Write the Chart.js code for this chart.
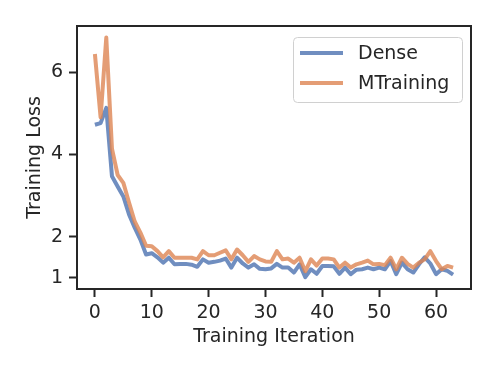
<!DOCTYPE html>
<html>
<head>
<meta charset="utf-8">
<script src="https://cdn.jsdelivr.net/npm/chart.js@4"></script>
<style>
  html, body { margin: 0; padding: 0; background: #ffffff; }
  #wrap { width: 498px; height: 374px; }
</style>
</head>
<body>
<div id="wrap"><canvas id="grafico" width="498" height="374"></canvas></div>
<script>
const iterations = [0, 1, 2, 3, 4, 5, 6, 7, 8, 9, 10, 11, 12, 13, 14, 15, 16, 17, 18, 19,
  20, 21, 22, 23, 24, 25, 26, 27, 28, 29, 30, 31, 32, 33, 34, 35, 36, 37, 38, 39,
  40, 41, 42, 43, 44, 45, 46, 47, 48, 49, 50, 51, 52, 53, 54, 55, 56, 57, 58, 59,
  60, 61, 62, 63];

const dense = [4.72, 4.76, 5.13, 3.47, 3.22, 2.98, 2.54, 2.22, 1.93, 1.57,
  1.60, 1.50, 1.37, 1.49, 1.33, 1.34, 1.34, 1.32, 1.27, 1.45,
  1.37, 1.39, 1.42, 1.47, 1.25, 1.49, 1.35, 1.25, 1.33, 1.22,
  1.21, 1.23, 1.34, 1.25, 1.25, 1.13, 1.33, 1.02, 1.21, 1.10,
  1.29, 1.29, 1.28, 1.10, 1.25, 1.09, 1.20, 1.21, 1.25, 1.21,
  1.25, 1.21, 1.41, 1.09, 1.37, 1.21, 1.13, 1.33, 1.50, 1.35,
  1.09, 1.21, 1.17, 1.08];

const mtraining = [6.44, 4.90, 6.84, 4.14, 3.50, 3.31, 2.83, 2.37, 2.10, 1.78,
  1.77, 1.65, 1.50, 1.65, 1.49, 1.49, 1.49, 1.49, 1.45, 1.65,
  1.55, 1.55, 1.61, 1.67, 1.45, 1.69, 1.55, 1.39, 1.53, 1.45,
  1.40, 1.39, 1.65, 1.45, 1.47, 1.37, 1.49, 1.16, 1.45, 1.30,
  1.47, 1.47, 1.45, 1.25, 1.37, 1.25, 1.33, 1.37, 1.42, 1.33,
  1.34, 1.31, 1.49, 1.21, 1.49, 1.34, 1.25, 1.37, 1.45, 1.65,
  1.41, 1.21, 1.29, 1.25];

const xTicks = [0, 10, 20, 30, 40, 50, 60];
const yTicks = [1, 2, 4, 6];

const corTexto = '#262626';
const fonte = 'DejaVu Sans';
const tamanhoFonte = 19;

// moldura completa + legenda dentro da area do grafico
const molduraELegenda = {
  id: 'molduraELegenda',
  afterDraw(chart) {
    const { ctx, chartArea } = chart;
    ctx.save();
    ctx.strokeStyle = corTexto;
    ctx.lineWidth = 2;
    ctx.strokeRect(chartArea.left, chartArea.top, chartArea.right - chartArea.left, chartArea.bottom - chartArea.top);

    const w = 169, h = 65;
    const x0 = chartArea.right - 9 - w;
    const y0 = chartArea.top + 11;
    ctx.fillStyle = 'rgba(255,255,255,0.8)';
    ctx.strokeStyle = '#d0d0d0';
    ctx.lineWidth = 1;
    ctx.beginPath();
    ctx.roundRect(x0 + 0.5, y0 + 0.5, w, h, 4);
    ctx.fill();
    ctx.stroke();

    ctx.font = tamanhoFonte + 'px "' + fonte + '"';
    ctx.textBaseline = 'middle';
    ctx.textAlign = 'left';
    chart.data.datasets.forEach((ds, i) => {
      const yy = y0 + 16 + i * 30;
      ctx.strokeStyle = ds.borderColor;
      ctx.lineWidth = 4;
      ctx.lineCap = 'butt';
      ctx.beginPath();
      ctx.moveTo(x0 + 7, yy);
      ctx.lineTo(x0 + 50, yy);
      ctx.stroke();
      ctx.fillStyle = corTexto;
      ctx.fillText(ds.label, x0 + 65, yy + 1);
    });
    ctx.restore();
  }
};

const ctx = document.getElementById('grafico').getContext('2d');
new Chart(ctx, {
  type: 'line',
  data: {
    labels: iterations,
    datasets: [
      {
        label: 'Dense',
        data: dense,
        borderColor: 'rgba(76, 114, 176, 0.8)',
        borderWidth: 4,
        pointRadius: 0,
        tension: 0,
        borderJoinStyle: 'round',
        fill: false,
        order: 1
      },
      {
        label: 'MTraining',
        data: mtraining,
        borderColor: 'rgba(221, 132, 82, 0.8)',
        borderWidth: 4,
        pointRadius: 0,
        tension: 0,
        borderJoinStyle: 'round',
        fill: false,
        order: 0
      }
    ]
  },
  options: {
    responsive: false,
    animation: false,
    layout: { padding: { top: 26, right: 27, left: 0, bottom: 0 } },
    plugins: {
      legend: { display: false },
      tooltip: { enabled: false }
    },
    scales: {
      x: {
        type: 'linear',
        min: -3.15,
        max: 66.15,
        afterFit(scale) { scale.height = 85; },
        afterBuildTicks(scale) { scale.ticks = xTicks.map(v => ({ value: v })); },
        grid: {
          drawOnChartArea: false,
          drawTicks: true,
          tickLength: 8,
          tickWidth: 2,
          tickColor: corTexto
        },
        border: { display: true, color: corTexto, width: 2 },
        ticks: {
          color: corTexto,
          padding: 5,
          maxRotation: 0,
          font: { family: fonte, size: tamanhoFonte }
        },
        title: {
          display: true,
          text: 'Training Iteration',
          color: corTexto,
          padding: { top: 0, bottom: 26 },
          font: { family: fonte, size: tamanhoFonte }
        }
      },
      y: {
        type: 'linear',
        min: 0.73,
        max: 7.12,
        afterFit(scale) { scale.width = 77; },
        afterBuildTicks(scale) { scale.ticks = yTicks.map(v => ({ value: v })); },
        grid: {
          drawOnChartArea: false,
          drawTicks: true,
          tickLength: 8,
          tickWidth: 2,
          tickColor: corTexto
        },
        border: { display: true, color: corTexto, width: 2 },
        ticks: {
          color: corTexto,
          padding: 6,
          font: { family: fonte, size: tamanhoFonte }
        },
        title: {
          display: true,
          text: 'Training Loss',
          color: corTexto,
          padding: { top: 24, bottom: 0 },
          font: { family: fonte, size: tamanhoFonte }
        }
      }
    }
  },
  plugins: [molduraELegenda]
});
</script>
</body>
</html>
